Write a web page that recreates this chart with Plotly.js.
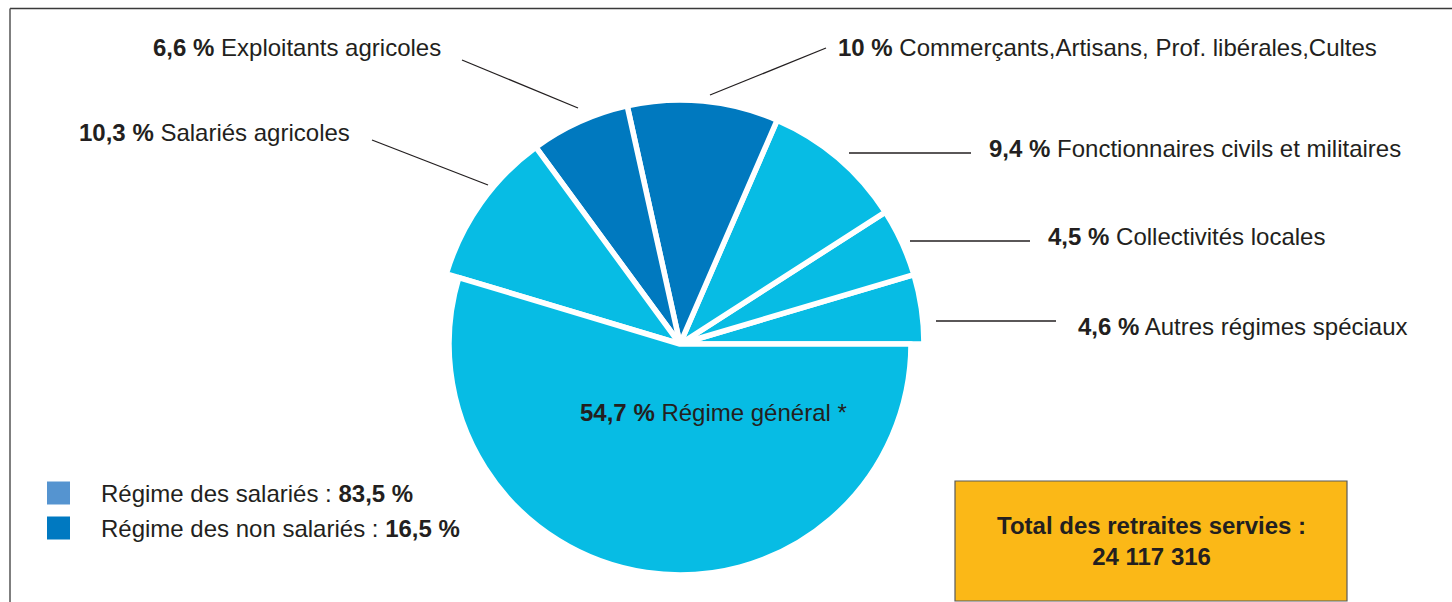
<!DOCTYPE html>
<html>
<head>
<meta charset="utf-8">
<script src="https://cdn.plot.ly/plotly-3.0.1.min.js"></script>
<style>html,body{margin:0;padding:0;background:#fff;}#chart{width:1452px;height:602px;}</style>
</head>
<body>
<div id="chart"></div>
<script>
// ---- data ----
var categories = ['Autres régimes spéciaux', 'Collectivités locales', 'Fonctionnaires civils et militaires',
  'Commerçants,Artisans, Prof. libérales,Cultes', 'Exploitants agricoles', 'Salariés agricoles', 'Régime général *'];
var shares = [4.6, 4.5, 9.4, 10, 6.6, 10.3, 54.7];
var shareLabels = ['4,6 %', '4,5 %', '9,4 %', '10 %', '6,6 %', '10,3 %', '54,7 %'];
var groups = ['sal', 'sal', 'sal', 'non', 'non', 'sal', 'sal'];
var groupNames = ['Régime des salariés : ', 'Régime des non salariés : '];
var groupShares = ['83,5 %', '16,5 %'];
var totalLabel = 'Total des retraites servies :';
var totalValue = '24 117 316';

// ---- styles ----
var CYAN = '#07bce4', DARK = '#0079bf', TXT = '#231f20';
var W = 1452, H = 602;
function px(x) { return x / W; }
function py(y) { return 1 - y / H; }

var cx = 680, cy = 344, rOuter = 244, rInner = 231;
var mainIdx = categories.length - 1;
var total = shares.reduce(function (a, b) { return a + b; }, 0);
// plotly places the first counterclockwise slice clockwise of `rotation`;
// shift so the first slice starts at 3 o'clock and runs upward
var rotation = 90 - shares[0] / total * 360;

var sliceColors = groups.map(function (g) { return g === 'sal' ? CYAN : DARK; });
var outerColors = sliceColors.map(function (c, i) { return i === mainIdx ? 'rgba(0,0,0,0)' : c; });
var outerLineW = sliceColors.map(function (c, i) { return i === mainIdx ? 0 : 5.5; });
var innerColors = sliceColors.map(function (c, i) { return i === mainIdx ? c : 'rgba(0,0,0,0)'; });
var innerLineW = sliceColors.map(function (c, i) { return i === mainIdx ? 5.5 : 0; });

function pieTrace(r, colors, lw) {
  return {
    type: 'pie', labels: categories, values: shares, sort: false,
    direction: 'counterclockwise', rotation: rotation,
    textinfo: 'none', hoverinfo: 'none', showlegend: false,
    marker: { colors: colors, line: { color: '#ffffff', width: lw } },
    domain: { x: [px(cx - r), px(cx + r)], y: [py(cy + r), py(cy - r)] }
  };
}

var data = [pieTrace(rOuter, outerColors, outerLineW), pieTrace(rInner, innerColors, innerLineW)];

// label placement (x, y, anchor) and leader lines
var labelPos = [
  { x: 1076, y: 326, a: 'left', line: [936, 321, 1056, 321] },
  { x: 1046, y: 237, a: 'left', line: [910, 241, 1030, 241] },
  { x: 987, y: 148, a: 'left', line: [849, 153, 971, 153] },
  { x: 836, y: 47, a: 'left', line: [710, 95, 826, 48] },
  { x: 443, y: 47, a: 'right', line: [462, 60, 578, 108] },
  { x: 352, y: 132, a: 'right', line: [372, 140, 488, 185] },
  { x: 713, y: 412, a: 'center', line: null }
];

var FONT = 'Liberation Sans, Arial, sans-serif';
var FS = 24;
var annotations = [], shapes = [];
categories.forEach(function (c, i) {
  var p = labelPos[i];
  annotations.push({
    xref: 'paper', yref: 'paper', x: px(p.x), y: py(p.y), xanchor: p.a, yanchor: 'middle',
    text: '<b>' + shareLabels[i] + '</b> ' + c, showarrow: false,
    font: { family: FONT, size: FS, color: TXT }
  });
  if (p.line) {
    shapes.push({ type: 'line', xref: 'paper', yref: 'paper',
      x0: px(p.line[0]), y0: py(p.line[1]), x1: px(p.line[2]), y1: py(p.line[3]),
      line: { color: '#231f20', width: 1.3 } });
  }
});

// group legend
var legendColors = ['#5594d0', '#0079c1'];
var legendY = [493, 528];
groupNames.forEach(function (g, i) {
  shapes.push({ type: 'rect', xref: 'paper', yref: 'paper',
    x0: px(47), x1: px(70), y0: py(legendY[i] - 11.5), y1: py(legendY[i] + 11.5),
    fillcolor: legendColors[i], line: { width: 0 } });
  annotations.push({ xref: 'paper', yref: 'paper', x: px(99), y: py(legendY[i]), xanchor: 'left', yanchor: 'middle',
    text: g + '<b>' + groupShares[i] + '</b>', showarrow: false,
    font: { family: FONT, size: FS, color: TXT } });
});

// total box
shapes.push({ type: 'rect', xref: 'paper', yref: 'paper', x0: px(955), x1: px(1347), y0: py(601), y1: py(481),
  fillcolor: '#fbb817', line: { color: '#5a5a5a', width: 1.2 } });
annotations.push({ xref: 'paper', yref: 'paper', x: px(1151), y: py(541), xanchor: 'center', yanchor: 'middle',
  text: '<b>' + totalLabel + '<br>' + totalValue + '</b>', showarrow: false, align: 'center',
  font: { family: FONT, size: FS, color: TXT } });

// frame
shapes.push({ type: 'line', xref: 'paper', yref: 'paper', x0: px(10), y0: py(8.5), x1: 1, y1: py(8.5),
  line: { color: '#3a3a3a', width: 1.5 } });
shapes.push({ type: 'line', xref: 'paper', yref: 'paper', x0: px(10), y0: py(8.5), x1: px(10), y1: 0,
  line: { color: '#555555', width: 1.5 } });

var layout = {
  width: W, height: H, margin: { l: 0, r: 0, t: 0, b: 0 },
  paper_bgcolor: '#ffffff', plot_bgcolor: '#ffffff', showlegend: false,
  annotations: annotations, shapes: shapes
};
Plotly.newPlot('chart', data, layout, { staticPlot: true });
</script>
</body>
</html>
